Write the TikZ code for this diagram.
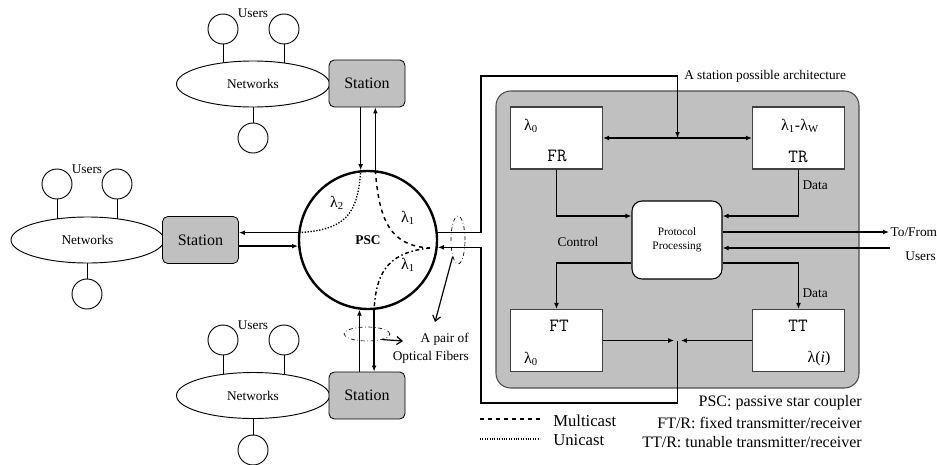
\documentclass[tikz,border=0pt]{standalone}
\usepackage{fontspec}
\setmainfont{Liberation Serif}
\usetikzlibrary{shapes.geometric,arrows.meta,calc,backgrounds}
\definecolor{boxgray}{HTML}{C0C0C0}
\begin{document}
\begin{tikzpicture}[x=0.75pt,y=-0.75pt, font=\fontsize{10}{12}\selectfont,
 arr/.style={line width=1.1pt, -{Latex[length=4.5pt,width=3.6pt]}},
 darr/.style={line width=1.1pt, {Latex[length=4.5pt,width=3.6pt]}-{Latex[length=4.5pt,width=3.6pt]}},
 station/.style={draw, fill=boxgray, rounded corners=4pt, minimum width=57pt, minimum height=35.25pt, font=\fontsize{12}{14}\selectfont, line width=0.6pt},
 net/.style={draw, ellipse, fill=white, minimum width=114.75pt, minimum height=34.5pt, line width=0.7pt, inner sep=0pt},
 user/.style={draw, circle, fill=white, minimum size=22.5pt, inner sep=0pt, line width=0.7pt},
 ulink/.style={line width=0.6pt},
 unit/.style={draw=black!75, fill=white, minimum width=69pt, minimum height=46.5pt, line width=0.8pt},
 mono/.style={font=\fontsize{14}{16}\ttfamily},
 lam/.style={font=\fontsize{12}{14}\selectfont},
 fib/.style={draw, ellipse, dash dot, line width=0.5pt, inner sep=0pt},
 ptr/.style={line width=0.9pt, -{Straight Barb[length=4pt,width=6pt]}},
 note/.style={anchor=east, inner sep=0pt, font=\fontsize{12}{14}\selectfont},
 leg/.style={anchor=west, inner sep=0pt, font=\fontsize{12.5}{14}\selectfont}
]
\useasboundingbox (0,0) rectangle (937,464);

% ---------- network groups ----------
\node[net] (netT) at (253,84) {Networks};
\node[user] (uT1) at (223,29) {};
\node[user] (uT2) at (284,29) {};
\node[user] (uT3) at (253,138) {};
\node (lblT) at (253,13) {Users};

\node[net] (netL) at (87.5,240) {Networks};
\node[user] (uL1) at (57,184) {};
\node[user] (uL2) at (117,184) {};
\node[user] (uL3) at (87,294) {};
\node (lblL) at (87,169) {Users};

\node[net] (netB) at (253,395.5) {Networks};
\node[user] (uB1) at (223,340) {};
\node[user] (uB2) at (284,340) {};
\node[user] (uB3) at (253,450) {};
\node (lblB) at (253,325) {Users};

\begin{scope}[on background layer]
\foreach \g in {T,L,B}{
  \draw[ulink] (u\g1.south) -- (u\g1.south |- net\g.center);
  \draw[ulink] (u\g2.south) -- (u\g2.south |- net\g.center);
  \draw[ulink] (u\g3.north) -- (u\g3.north |- net\g.center);
}
\end{scope}

% ---------- stations ----------
\node[station] (stT) at (367,83.5) {Station};
\node[station] (stL) at (200.5,240) {Station};
\node[station] (stB) at (367,395.5) {Station};

% ---------- PSC ----------
\node[draw, circle, line width=1.8pt, minimum size=103.5pt, inner sep=0pt, font=\bfseries] (psc) at (368,240) {PSC};

\draw[arr] (stT.south -| psc.96.65) -- (psc.96.65);
\draw[arr] (psc.84.2) -- (stT.south -| psc.84.2);
\draw[arr] (psc.174.2) -- (stL.east |- psc.174.2);
\draw[arr] (stL.east |- psc.185.8) -- (psc.185.8);
\draw[arr] (stB.north -| psc.263.35) -- (psc.263.35);
\draw[arr] (psc.275.8) -- (stB.north -| psc.275.8);

\coordinate (fc) at (430,248);
\draw[line width=1pt, dash pattern=on 1pt off 1.2pt] (psc.96.65) .. controls (358,215) and (345,230) .. (psc.174.2);
\draw[line width=1.1pt, dashed] (psc.84.2) .. controls (379,220) and (390,246) .. (fc);
\draw[line width=1.1pt, dash dot] (fc) .. controls (392,252) and (376,268) .. (psc.275.8);

\node[lam] (l2) at (337,203) {λ\textsubscript{2}};
\node[lam] (l1a) at (408,218) {λ\textsubscript{1}};
\node[lam] (l1b) at (408,265) {λ\textsubscript{1}};

% ---------- fibre pair marks ----------
\node[fib, minimum width=10.5pt, minimum height=36pt] (fe) at (458,240) {};
\node[fib, minimum width=34.5pt, minimum height=10.5pt] (fb) at (367,334) {};
\coordinate (pt1) at (435,322);
\coordinate (pt2) at (403,341);
\draw[ptr] (fe.252) -- (pt1);
\draw[ptr] (fb.-20) -- (pt2);
\node[align=right, anchor=east, inner sep=0pt, font=\fontsize{10}{13.5}\selectfont] (pair) at (469,348) {A pair of\\Optical Fibers};

% ---------- station architecture ----------
\node[draw=black!70, fill=boxgray, rounded corners=11pt, minimum width=272.25pt, minimum height=222.75pt, line width=0.8pt] (arch) at (677.5,239.5) {};

\node[unit] (fr) at (556.5,138) {};
\node[lam] (frl) at (531,126) {λ\textsubscript{0}};
\node[mono] (frt) at (557,156) {FR};

\node[unit] (tr) at (798.5,138) {};
\node[lam] (trl) at (800,126) {λ\textsubscript{1}-λ\textsubscript{W}};
\node[mono] (trt) at (798,157) {TR};

\node[unit] (ft) at (556.5,340.5) {};
\node[mono] (ftt) at (559,326) {FT};
\node[lam] (ftl) at (531,359) {λ\textsubscript{0}};

\node[unit] (tt) at (798.5,340.5) {};
\node[mono] (ttt) at (798,326) {TT};
\node[lam] (ttl) at (819,359) {λ(\textit{i})};

\node[draw, fill=white, rounded corners=7.5pt, minimum width=67.5pt, minimum height=58.5pt, align=center, font=\fontsize{8.5}{10.5}\selectfont, line width=0.8pt] (proto) at (677,240) {Protocol\\Processing};

\coordinate (jt) at ($(fr.east)!0.5!(tr.west)$);
\coordinate (jb) at ($(ft.east)!0.5!(tt.west)$);
\coordinate (wtop) at (481,76);
\coordinate (wbot) at (481,403);

\draw[darr] (fr.east) -- (tr.west);
\draw[arr] (psc.6.65) -| (wtop) -| (jt);
\draw[arr] (jb) |- (wbot) |- (psc.-6.65);
\draw[arr] (ft.east) -- ([xshift=-2.5pt]jb);
\draw[arr] (tt.west) -- ([xshift=2.5pt]jb);

\draw[arr] (fr.south) |- ($(proto.west)+(0,-24)$);
\draw[arr] (tr.south) |- ($(proto.east)+(0,-24)$);
\draw[arr] ($(proto.west)+(0,23)$) -| (ft.north);
\draw[arr] ($(proto.east)+(0,23)$) -| (tt.north);

\node[anchor=west, inner sep=1pt] (d1) at (801,185) {Data};
\node[anchor=west, inner sep=1pt] (d2) at (801,293) {Data};
\node (ctl) at (578,242) {Control};

\node[anchor=west, inner sep=1pt] (tf) at (889,232) {To/From};
\node[anchor=east, inner sep=0pt] (us) at (936,256) {Users};
\coordinate (usr) at (890,248);
\draw[arr] ($(proto.east)+(0,-8)$) -- (tf.west);
\draw[arr] (usr) -- (proto.east |- usr);

\node[anchor=west, inner sep=0pt] (archlbl) at (684,76) {A station possible architecture};

% ---------- legend ----------
\coordinate (lga) at (480,419);
\coordinate (lgb) at (540,419);
\coordinate (lgc) at (480,439);
\coordinate (lgd) at (540,439);
\draw[line width=1pt, dashed] (lga) -- (lgb);
\draw[line width=0.8pt, dash pattern=on 0.8pt off 1pt] (lgc) -- (lgd);
\node[leg] (mc) at (553,421) {Multicast};
\node[leg] (uc) at (553,440) {Unicast};

\node[note] (n1) at (862,403) {PSC: passive star coupler};
\node[note] (n2) at (862,423) {FT/R: fixed transmitter/receiver};
\node[note] (n3) at (862,442) {TT/R: tunable transmitter/receiver};
\end{tikzpicture}
\end{document}
